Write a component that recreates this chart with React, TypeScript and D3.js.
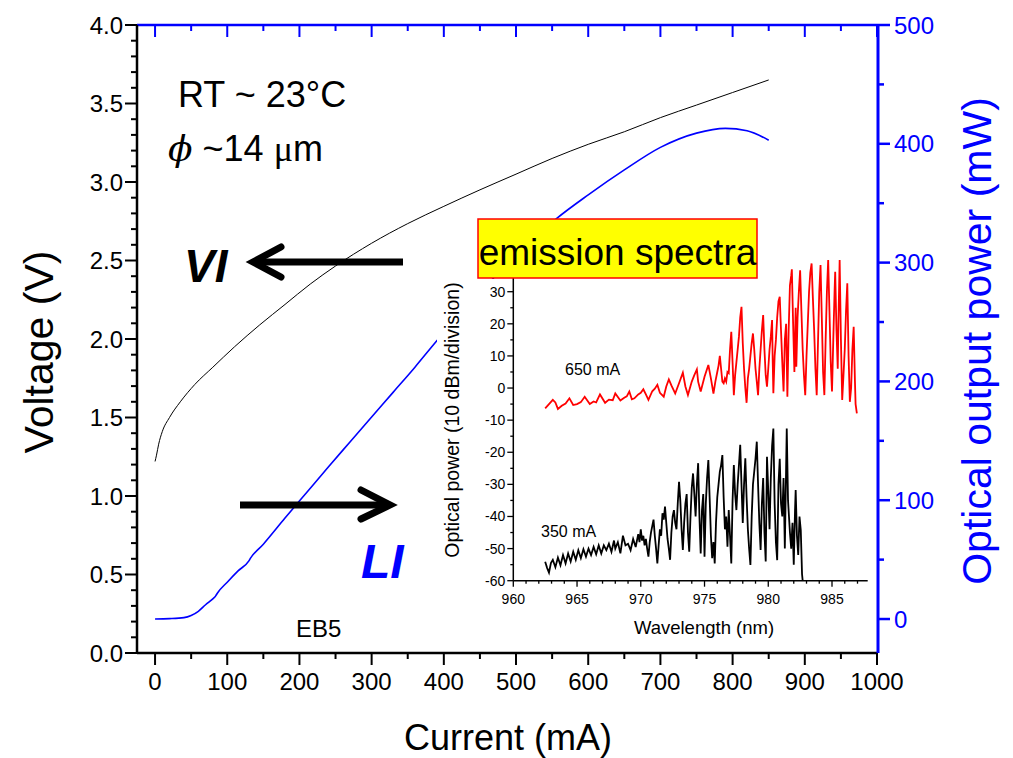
import React from 'react';
import * as d3 from 'd3';

// ---------- main plot data ----------
const viCurrent = [0, 2, 5, 10, 20, 35, 55, 80, 110, 145, 180, 215, 250, 300, 350, 400, 450, 500, 550, 600, 650, 700, 750, 800, 850];
const viVoltage = [1.22, 1.26, 1.33, 1.41, 1.5, 1.6, 1.71, 1.82, 1.95, 2.09, 2.22, 2.35, 2.465, 2.61, 2.735, 2.845, 2.95, 3.05, 3.15, 3.24, 3.32, 3.41, 3.49, 3.57, 3.65];

const liCurrent = [0, 20, 40, 50, 60, 70, 80, 84, 86, 100, 115, 130, 132, 150, 180, 210, 240, 270, 300, 330, 360, 390, 450, 500, 556, 600, 650, 700, 750, 790, 820, 850];
const liPower = [0, 0.3, 1.2, 3, 6.5, 12, 17, 19.5, 21.5, 31, 40.5, 49, 51, 63, 85, 106.5, 128, 149, 170, 191, 212, 234, 275, 306, 337, 357, 378, 397, 409, 413, 411, 403];

const currentTicks = [0, 100, 200, 300, 400, 500, 600, 700, 800, 900, 1000];
const voltageTicks = [0, 0.5, 1, 1.5, 2, 2.5, 3, 3.5, 4];
const powerTicks = [0, 100, 200, 300, 400, 500];

// ---------- inset spectra data [wavelength nm, power dBm] ----------
const spec650: [number, number][] = [
  [962.5, -6.3], [962.8, -5.0], [963.1, -3.7], [963.3, -4.5], [963.5, -6.5], [963.8, -5.5], [964.1, -4.8], [964.4, -3.2],
  [964.7, -5.3], [965.0, -5.0], [965.3, -4.4], [965.6, -2.7], [966.0, -5.0], [966.3, -4.2], [966.5, -4.5], [966.8, -2.0],
  [967.2, -4.6], [967.5, -3.6], [967.8, -3.8], [968.0, -1.7], [968.4, -3.9], [968.7, -3.0], [968.9, -2.6], [969.1, -1.1],
  [969.3, -3.5], [969.5, -3.2], [969.8, -2.0], [970.0, -1.5], [970.2, -0.4], [970.4, -2.0], [970.6, -3.7], [970.9, -1.0],
  [971.1, -0.2], [971.3, 1.0], [971.5, -1.5], [971.8, -2.7], [972.0, 0.5], [972.2, 2.7], [972.4, 0.8], [972.7, -1.7],
  [973.0, 1.5], [973.3, 4.8], [973.5, 0.5], [973.7, -2.2], [974.0, 2.0], [974.2, 4.0], [974.4, 5.8], [974.5, 2.0],
  [974.7, -1.1], [975.0, 3.5], [975.3, 7.2], [975.5, 3.0], [975.7, -1.7], [975.85, 2.0],
  [976.0, 5.0], [976.1, 7], [976.2, 10.0], [976.3, 6], [976.4, 2], [976.5, 1.5], [976.6, 3], [976.7, 2], [976.8, 5], [976.9, 4.6],
  [977.0, 12], [977.1, 17.5], [977.2, 8.0], [977.3, -2.2], [977.4, 4], [977.5, 8], [977.6, 12.0], [977.7, 16], [977.8, 22], [977.9, 25.3],
  [978.0, 14], [978.1, 6.0], [978.2, 0], [978.3, -4.6], [978.4, 3], [978.5, 6], [978.6, 10.0], [978.7, 14], [978.8, 17.0], [978.9, 12],
  [979.0, 6.0], [979.1, 2], [979.2, -2.2], [979.3, 6], [979.4, 12.0], [979.5, 18], [979.6, 22.7], [979.7, 12], [979.8, 4], [979.9, 0.4],
  [980.0, 6], [980.1, 12.0], [980.2, 16], [980.3, 21.2], [980.35, 8], [980.4, -1.6], [980.5, 10], [980.6, 15.0], [980.7, 22], [980.8, 27],
  [980.9, 28.4], [981.0, 18.0], [981.1, 8], [981.2, -1.1], [981.3, 15], [981.4, 20.0], [981.5, -2.7], [981.6, 18], [981.7, 32.0], [981.8, 35],
  [981.85, 37.0], [981.95, 20], [982.05, 5.0], [982.15, 25], [982.2, 6.6], [982.3, 22], [982.4, 30.0], [982.5, 36.7], [982.6, 24], [982.7, 12.0],
  [982.8, 4], [982.9, -2.2], [983.0, 10], [983.1, 20.0], [983.2, 30], [983.3, 36], [983.4, 38.8], [983.5, 28], [983.6, 18.0], [983.7, 6],
  [983.8, -2.2], [983.9, 14], [984.0, 30.0], [984.1, 38.3], [984.2, 22], [984.3, 5], [984.4, -2.2], [984.5, 15], [984.6, 30], [984.7, 39.9],
  [984.8, 24], [984.9, 8], [985.0, -1.1], [985.1, 15], [985.2, 30], [985.25, 36.2], [985.35, 18], [985.45, 6], [985.5, 20], [985.6, 39.9],
  [985.7, 15], [985.8, -3.7], [985.9, 4], [986.0, 12.0], [986.1, 24], [986.2, 32.6], [986.3, 10], [986.4, -4.3], [986.5, 0], [986.6, 12],
  [986.7, 19.1], [986.8, 2], [986.85, -5.0], [986.95, -7.9]
];

const spec350: [number, number][] = [
  [962.5, -54.1], [962.65, -56.0], [962.8, -57.5], [962.95, -54.5], [963.1, -53.5], [963.3, -55.8], [963.5, -52.8], [963.7, -55.2],
  [963.9, -52.0], [964.1, -54.6], [964.3, -51.5], [964.5, -54.0], [964.7, -51.0], [964.9, -53.5], [965.1, -50.5], [965.3, -53.0],
  [965.5, -50.2], [965.7, -52.5], [965.9, -50.0], [966.1, -52.0], [966.3, -49.5], [966.5, -51.8], [966.7, -49.0], [966.9, -51.5],
  [967.1, -49.0], [967.3, -50.5], [967.5, -48.5], [967.7, -51.0], [967.9, -47.5], [968.0, -50.0], [968.2, -48.0], [968.4, -51.5],
  [968.6, -46.0], [968.8, -49.0], [969.0, -48.5], [969.2, -50.5], [969.4, -47.0], [969.6, -49.5],
  [969.8, -45.5], [969.9, -48], [970.0, -44.0], [970.1, -47.5], [970.2, -46.0], [970.3, -49], [970.4, -47.0], [970.5, -50], [970.6, -52.5], [970.7, -48],
  [970.8, -45.0], [970.9, -43], [971.0, -41.0], [971.1, -46], [971.2, -50], [971.3, -54.6], [971.4, -49], [971.5, -44.0], [971.6, -46], [971.7, -39.0],
  [971.8, -41], [971.9, -36.9], [972.0, -42], [972.1, -47], [972.2, -50], [972.3, -53.5], [972.4, -45], [972.5, -40], [972.6, -38.0], [972.7, -42],
  [972.8, -44.0], [972.9, -36], [973.0, -29.2], [973.1, -35], [973.2, -44], [973.3, -50.4], [973.4, -42], [973.5, -36.0], [973.6, -33.0], [973.7, -45],
  [973.8, -51.0], [973.9, -40.0], [974.0, -31], [974.1, -26.6], [974.2, -33], [974.3, -40], [974.4, -30], [974.5, -23.4], [974.6, -40], [974.7, -51.5],
  [974.8, -38], [974.9, -33], [975.0, -52.5], [975.1, -36], [975.2, -28], [975.3, -22.4], [975.4, -34], [975.5, -46], [975.6, -53.0], [975.7, -48],
  [975.8, -54.6], [975.9, -42], [976.0, -34], [976.1, -30], [976.2, -26], [976.3, -24], [976.4, -20.9], [976.5, -34], [976.6, -44], [976.7, -40],
  [976.8, -49.4], [976.9, -38], [977.0, -46], [977.1, -54.6], [977.2, -35], [977.3, -24.0], [977.4, -33], [977.5, -38], [977.6, -30.0], [977.7, -24],
  [977.8, -17.7], [977.9, -30], [978.0, -42], [978.1, -30], [978.2, -21.9], [978.3, -34], [978.4, -44], [978.5, -50], [978.6, -55.1], [978.7, -40],
  [978.8, -30], [978.9, -26], [979.0, -22], [979.1, -16.7], [979.2, -30], [979.3, -42], [979.4, -50.4], [979.5, -36], [979.6, -28], [979.7, -45],
  [979.8, -54], [979.9, -21.4], [980.0, -32], [980.1, -44], [980.2, -28], [980.3, -18], [980.4, -12.6], [980.5, -36], [980.6, -48], [980.7, -53.6],
  [980.8, -30], [980.9, -22], [981.0, -36], [981.1, -40], [981.2, -28], [981.3, -50.0], [981.4, -25], [981.45, -12.6], [981.55, -35], [981.7, -45],
  [981.8, -50], [981.9, -42], [982.0, -55.0], [982.1, -38], [982.15, -31.8], [982.25, -46], [982.35, -52], [982.45, -40], [982.55, -44.2], [982.65, -58],
  [982.7, -60.0]
];

const wavelengthTicks = [960, 965, 970, 975, 980, 985];
const dbmTicks = [-60, -50, -40, -30, -20, -10, 0, 10, 20, 30];

const FF = "'Liberation Sans', Arial, Helvetica, sans-serif";
const BLUE = '#0000ff';

export default function App() {
  const W = 1013, H = 758;
  const L = 137, R = 878, T = 25, B = 653;

  const x = d3.scaleLinear().domain([-25, 1000]).range([137, 877]);
  const yV = d3.scaleLinear().domain([0, 4]).range([B, T]);
  const yP = d3.scaleLinear().domain([-28.6, 500]).range([B, T]);

  const ix = d3.scaleLinear().domain([960, 987.8]).range([513.3, 867.7]);
  const iy = d3.scaleLinear().domain([-60, 40]).range([580.7, 259.6]);

  const viLine = d3.line<number>()
    .x((_, i) => x(viCurrent[i]))
    .y((v) => yV(v))
    .curve(d3.curveMonotoneX)(viVoltage) || '';
  const liLine = d3.line<number>()
    .x((_, i) => x(liCurrent[i]))
    .y((p) => yP(p))
    .curve(d3.curveMonotoneX)(liPower) || '';

  const specLine = d3.line<[number, number]>().x((d) => ix(d[0])).y((d) => iy(d[1]));

  const xMinor = d3.range(0, 1001, 50).filter((v) => v % 100 !== 0);
  const vMinor = d3.range(0, 41, 1).map((v) => v / 10).filter((v) => Math.round(v * 10) % 5 !== 0);
  const pMinor = d3.range(50, 500, 100);
  const wlMinor = d3.range(961, 988, 1).filter((v) => v % 5 !== 0);
  const dbMinor = d3.range(-55, 40, 10);

  const MAJ = 12, MIN = 6;

  return (
    <svg width={W} height={H} style={{ position: 'absolute', left: 0, top: 0, background: '#fff' }} fontFamily={FF}>
      <rect x={0} y={0} width={W} height={H} fill="#fff" />

      {/* curves */}
      <path d={viLine} fill="none" stroke="#000" strokeWidth={1} />
      <path d={liLine} fill="none" stroke={BLUE} strokeWidth={1.6} />

      {/* bottom axis */}
      <line x1={L} x2={R} y1={B} y2={B} stroke="#000" strokeWidth={2.5} />
      {currentTicks.map((t) => (
        <g key={'xb' + t}>
          <line x1={x(t)} x2={x(t)} y1={B} y2={B + MAJ} stroke="#000" strokeWidth={2} />
          <text x={x(t)} y={690} fontSize={24} textAnchor="middle">{t}</text>
        </g>
      ))}
      {xMinor.map((t) => (
        <line key={'xbm' + t} x1={x(t)} x2={x(t)} y1={B} y2={B + MIN} stroke="#000" strokeWidth={2} />
      ))}

      {/* top axis (blue) */}
      <line x1={L} x2={R} y1={T} y2={T} stroke={BLUE} strokeWidth={2.5} />
      {currentTicks.map((t) => (
        <line key={'xt' + t} x1={x(t)} x2={x(t)} y1={T} y2={T + MAJ} stroke={BLUE} strokeWidth={2} />
      ))}
      {xMinor.map((t) => (
        <line key={'xtm' + t} x1={x(t)} x2={x(t)} y1={T} y2={T + MIN} stroke={BLUE} strokeWidth={2} />
      ))}

      {/* left axis */}
      <line x1={L} x2={L} y1={T} y2={B} stroke="#000" strokeWidth={2.5} />
      {voltageTicks.map((t) => (
        <g key={'yl' + t}>
          <line x1={L - MAJ} x2={L} y1={yV(t)} y2={yV(t)} stroke="#000" strokeWidth={2} />
          <text x={L - 14} y={yV(t) + 8.5} fontSize={24} textAnchor="end">{t.toFixed(1)}</text>
        </g>
      ))}
      {vMinor.map((t) => (
        <line key={'ylm' + t} x1={L - MIN} x2={L} y1={yV(t)} y2={yV(t)} stroke="#000" strokeWidth={2} />
      ))}

      {/* right axis (blue) */}
      <line x1={R} x2={R} y1={T} y2={B} stroke={BLUE} strokeWidth={3} />
      {powerTicks.map((t) => (
        <g key={'yr' + t}>
          <line x1={R} x2={R + MAJ} y1={yP(t)} y2={yP(t)} stroke={BLUE} strokeWidth={2.5} />
          <text x={R + 16} y={yP(t) + 8.5} fontSize={24} fill={BLUE}>{t}</text>
        </g>
      ))}
      {pMinor.map((t) => (
        <line key={'yrm' + t} x1={R} x2={R + MIN} y1={yP(t)} y2={yP(t)} stroke={BLUE} strokeWidth={2.5} />
      ))}

      {/* axis titles */}
      <text x={508} y={750} fontSize={36} textAnchor="middle">Current (mA)</text>
      <text transform="translate(53,352) rotate(-90)" fontSize={41} textAnchor="middle">Voltage (V)</text>
      <text transform="translate(991,341) rotate(-90)" fontSize={41} textAnchor="middle" fill={BLUE}>Optical output power (mW)</text>

      {/* annotations */}
      <text x={178} y={107} fontSize={36}>RT ~ 23°C</text>
      <text x={168} y={161} fontSize={36}><tspan fontStyle="italic" fontFamily="'DejaVu Serif', serif">ϕ</tspan> ~14 <tspan fontFamily="'Liberation Serif', serif">μ</tspan>m</text>
      <text x={184} y={282} fontSize={46} fontWeight="bold" fontStyle="italic">VI</text>
      <text x={361} y={578} fontSize={48} fontWeight="bold" fontStyle="italic" fill={BLUE}>LI</text>
      <text x={296} y={637} fontSize={24}>EB5</text>

      {/* arrows */}
      <g stroke="#000" strokeWidth={7} strokeLinecap="round" fill="none">
        <line x1={403} x2={255} y1={262} y2={262} strokeLinecap="butt" />
        <polyline points="281,247 253,262 281,277" strokeLinejoin="miter" />
        <line x1={240} x2={388} y1={505} y2={505} strokeLinecap="butt" />
        <polyline points="361,490 390,505 361,519" strokeLinejoin="miter" />
      </g>

      {/* inset */}
      <rect x={437} y={279} width={435} height={366} fill="#fff" />
      <path d={specLine(spec650) || ''} fill="none" stroke="#ff0000" strokeWidth={1.8} />
      <path d={specLine(spec350) || ''} fill="none" stroke="#000" strokeWidth={1.8} />
      <line x1={ix(960)} x2={ix(960)} y1={iy(40)} y2={iy(-60)} stroke="#000" strokeWidth={1.5} />
      <line x1={ix(960)} x2={ix(987.8)} y1={iy(-60)} y2={iy(-60)} stroke="#000" strokeWidth={1.5} />
      {dbmTicks.map((t) => (
        <g key={'dy' + t}>
          <line x1={ix(960) - 6} x2={ix(960)} y1={iy(t)} y2={iy(t)} stroke="#000" strokeWidth={1.3} />
          <text x={ix(960) - 8} y={iy(t) + 5} fontSize={14} textAnchor="end">{t}</text>
        </g>
      ))}
      {dbMinor.map((t) => (
        <line key={'dym' + t} x1={ix(960) - 3} x2={ix(960)} y1={iy(t)} y2={iy(t)} stroke="#000" strokeWidth={1.3} />
      ))}
      {wavelengthTicks.map((t) => (
        <g key={'wx' + t}>
          <line x1={ix(t)} x2={ix(t)} y1={iy(-60)} y2={iy(-60) + 6} stroke="#000" strokeWidth={1.3} />
          <text x={ix(t)} y={604} fontSize={14} textAnchor="middle">{t}</text>
        </g>
      ))}
      {wlMinor.map((t) => (
        <line key={'wxm' + t} x1={ix(t)} x2={ix(t)} y1={iy(-60)} y2={iy(-60) + 3} stroke="#000" strokeWidth={1.3} />
      ))}
      <text x={704} y={634} fontSize={18.5} textAnchor="middle">Wavelength (nm)</text>
      <text transform="translate(459,420) rotate(-90)" fontSize={19.5} textAnchor="middle">Optical power (10 dBm/division)</text>
      <text x={565} y={375} fontSize={16}>650 mA</text>
      <text x={541} y={537} fontSize={16}>350 mA</text>

      {/* label box */}
      <rect x={478} y={219} width={279} height={59} fill="#ffff00" stroke="#ff0000" strokeWidth={1.5} />
      <text x={617.5} y={265} fontSize={37} textAnchor="middle">emission spectra</text>
    </svg>
  );
}
